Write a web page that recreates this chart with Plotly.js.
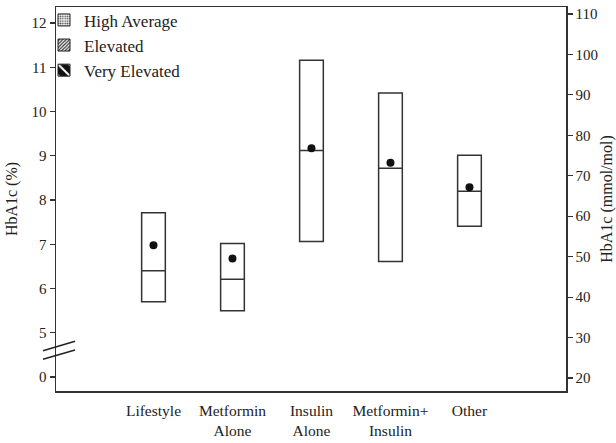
<!DOCTYPE html>
<html>
<head>
<meta charset="utf-8">
<script src="https://cdn.plot.ly/plotly-3.0.1.min.js"></script>
<style>html,body{margin:0;padding:0;background:#fff;}#chart{width:616px;height:443px;}
#chart .legend .traces{opacity:1 !important;}</style>
</head>
<body>
<div id="chart"></div>
<script>
// Categories (x positions 0..4)
var categories = ["Lifestyle", "Metformin<br>Alone", "Insulin<br>Alone", "Metformin+<br>Insulin", "Other"];
var catPos = [0, 1, 2, 3, 4];
// HbA1c (%) box statistics
var q1Vals     = [5.70, 5.50, 7.06, 6.61, 7.41];
var medianVals = [6.40, 6.21, 9.12, 8.72, 8.20];
var q3Vals     = [7.71, 7.02, 11.16, 10.42, 9.01];
var meanVals   = [6.98, 6.68, 9.17, 8.84, 8.29];
// Left axis ticks (broken axis: "0" is placed one unit below 5)
var leftTickVals = [4, 5, 6, 7, 8, 9, 10, 11, 12];
var leftTickText = ["0", "5", "6", "7", "8", "9", "10", "11", "12"];
// Right axis ticks (mmol/mol)
var rightTickVals = [20, 30, 40, 50, 60, 70, 80, 90, 100, 110];
// Legend categories
var legendNames = ["High Average", "Elevated", "Very Elevated"];

var font = "Liberation Serif";
var ink = "#222";
var lineCol = "#333";

var traces = [];
traces.push({
  type: "box",
  x: catPos,
  q1: q1Vals,
  median: medianVals,
  q3: q3Vals,
  lowerfence: q1Vals,
  upperfence: q3Vals,
  width: 0.3,
  whiskerwidth: 0,
  fillcolor: "#ffffff",
  line: {color: lineCol, width: 1.5},
  showlegend: false,
  hoverinfo: "skip"
});
traces.push({
  type: "scatter",
  mode: "markers",
  x: catPos,
  y: meanVals,
  marker: {color: "#111", size: 8},
  showlegend: false,
  hoverinfo: "skip"
});
var patterns = [
  {shape: ".", fgcolor: "#444", bgcolor: "#fff", size: 3, solidity: 0.4},
  {shape: "/", fgcolor: "#333", bgcolor: "#fff", size: 3, solidity: 0.5},
  {shape: "\\", fgcolor: "#fff", bgcolor: "#111", size: 12, solidity: 0.25}
];
for (var i = 0; i < legendNames.length; i++) {
  traces.push({
    type: "bar",
    x: [0],
    y: [0],
    name: legendNames[i],
    yaxis: "y2",
    visible: "legendonly",
    marker: {color: "#fff", line: {color: "#222", width: 1}, pattern: patterns[i]},
    showlegend: true
  });
}

var shapes = [
  {type: "line", xref: "paper", yref: "y", x0: -0.0255, y0: 4.594, x1: 0.0373, y1: 4.81, line: {color: ink, width: 1.5}},
  {type: "line", xref: "paper", yref: "y", x0: -0.0255, y0: 4.40, x1: 0.0373, y1: 4.61, line: {color: ink, width: 1.5}}
];

var layout = {
  width: 616,
  height: 443,
  margin: {l: 56, r: 50, t: 7, b: 52, pad: 0, autoexpand: false},
  paper_bgcolor: "#fff",
  plot_bgcolor: "#fff",
  font: {family: font, size: 15, color: ink},
  showlegend: true,
  legend: {
    x: -0.0235, y: 1.012, xanchor: "left", yanchor: "top",
    bgcolor: "rgba(0,0,0,0)",
    font: {family: font, size: 17, color: ink},
    tracegroupgap: 0,
    itemwidth: 30,
    traceorder: "normal"
  },
  xaxis: {
    range: [-1.234, 5.222],
    tickvals: catPos,
    ticktext: categories,
    ticks: "",
    ticklabelstandoff: 5,
    showgrid: false,
    zeroline: false,
    showline: true,
    linecolor: lineCol,
    linewidth: 1.5,
    mirror: true,
    tickfont: {family: font, size: 15.5, color: ink}
  },
  yaxis: {
    range: [3.684, 12.362],
    tickvals: leftTickVals,
    ticktext: leftTickText,
    ticks: "outside",
    ticklen: 5,
    tickcolor: lineCol,
    tickwidth: 1.2,
    showgrid: false,
    zeroline: false,
    showline: true,
    linecolor: lineCol,
    linewidth: 1.5,
    tickfont: {family: font, size: 15, color: ink},
    title: {text: "HbA1c (%)", font: {family: font, size: 16, color: ink}, standoff: 10}
  },
  yaxis2: {
    overlaying: "y",
    side: "right",
    range: [16.79, 111.73],
    tickvals: rightTickVals,
    ticks: "outside",
    ticklen: 5,
    tickcolor: lineCol,
    tickwidth: 1.2,
    showgrid: false,
    zeroline: false,
    showline: true,
    linecolor: lineCol,
    linewidth: 1.5,
    tickfont: {family: font, size: 15, color: ink},
    title: {text: "HbA1c (mmol/mol)", font: {family: font, size: 16, color: ink}, standoff: 6}
  },
  shapes: shapes
};

Plotly.newPlot("chart", traces, layout, {displayModeBar: false, staticPlot: true});
</script>
</body>
</html>
